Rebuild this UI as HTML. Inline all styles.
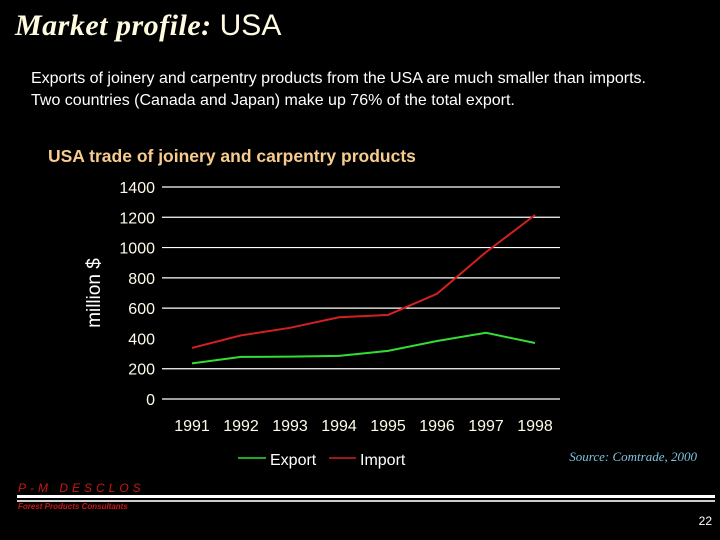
<!DOCTYPE html>
<html><head><meta charset="utf-8"><style>
body{margin:0;background:#000;width:720px;height:540px;overflow:hidden;font-family:"Liberation Sans",sans-serif;}
svg{position:absolute;left:0;top:0}
</style></head><body>
<svg width="720" height="540">
<text x="15" y="35" fill="#fffbe0" font-family="Liberation Serif" font-style="italic" font-weight="bold" font-size="30" letter-spacing="0.5">Market profile: <tspan font-family="Liberation Sans" font-style="normal" font-weight="normal" font-size="30" letter-spacing="0">USA</tspan></text>
<text x="31" y="83" fill="#fff" font-size="16" textLength="615">Exports of joinery and carpentry products from the USA are much smaller than imports.</text>
<text x="31" y="105" fill="#fff" font-size="16">Two countries (Canada and Japan) make up 76% of the total export.</text>
<text x="48" y="162" fill="#f7cc8c" font-size="17.5" font-weight="bold">USA trade of joinery and carpentry products</text>
<text transform="translate(100,293) rotate(-90)" text-anchor="middle" fill="#fff" font-size="19">million $</text>
<g id="grid"></g><g id="yt"></g><g id="xt"></g><g id="lines"></g>
<g>
<line x1="238" y1="458" x2="266" y2="458" stroke="#33dd33" stroke-width="1.5"/>
<text x="270" y="465" fill="#fff" font-size="16">Export</text>
<line x1="329" y1="458" x2="356" y2="458" stroke="#d42020" stroke-width="1.5"/>
<text x="360" y="465" fill="#fff" font-size="16">Import</text>
</g>
<text x="697" y="461" text-anchor="end" fill="#7fc4dc" font-family="Liberation Serif" font-style="italic" font-size="13">Source: Comtrade, 2000</text>
<text x="18" y="492" fill="#c81818" font-style="italic" font-size="12" letter-spacing="4">P-M DESCLOS</text>
<rect x="17" y="495" width="698" height="3" fill="#fff"/>
<rect x="17" y="500" width="698" height="2" fill="#ccc"/>
<text x="18" y="509" fill="#c81818" font-style="italic" font-weight="bold" font-size="8">Forest Products Consultants</text>
<text x="712" y="525" text-anchor="end" fill="#fff" font-size="12">22</text>
</svg>
<script>
const years=["1991","1992","1993","1994","1995","1996","1997","1998"];
const exportVals=[235,278,280,285,318,383,437,370];
const importVals=[337,420,470,540,555,695,970,1215];
const yTicks=[0,200,400,600,800,1000,1200,1400];
const gridVals=[0,200,600,800,1000,1200,1400];
const NS="http://www.w3.org/2000/svg";
const y=v=>399-v*(212/1400);
const x=i=>192+i*(343/7);
function mk(t,a,p){const e=document.createElementNS(NS,t);for(const k in a)e.setAttribute(k,a[k]);p.appendChild(e);return e;}
const g=document.getElementById('grid');
gridVals.forEach(v=>{const l=mk('line',{x1:162,x2:560,y1:y(v),y2:y(v),stroke:'#fff','stroke-width':1.2},g);

});
const yt=document.getElementById('yt');
yTicks.forEach(v=>{const t=mk('text',{x:155,y:y(v)+6,'text-anchor':'end',fill:'#fffbe8','font-size':16},yt);t.textContent=v;

});
const xt=document.getElementById('xt');
years.forEach((yr,i)=>{const t=mk('text',{x:x(i),y:431,'text-anchor':'middle',fill:'#fffbe8','font-size':16},xt);t.textContent=yr;

});
const lg=document.getElementById('lines');
const pe=mk('polyline',{points:exportVals.map((v,i)=>x(i)+','+y(v)).join(' '),fill:'none',stroke:'#33dd33','stroke-width':2},lg);


const pi=mk('polyline',{points:importVals.map((v,i)=>x(i)+','+y(v)).join(' '),fill:'none',stroke:'#d42020','stroke-width':2},lg);


</script>
</body></html>
